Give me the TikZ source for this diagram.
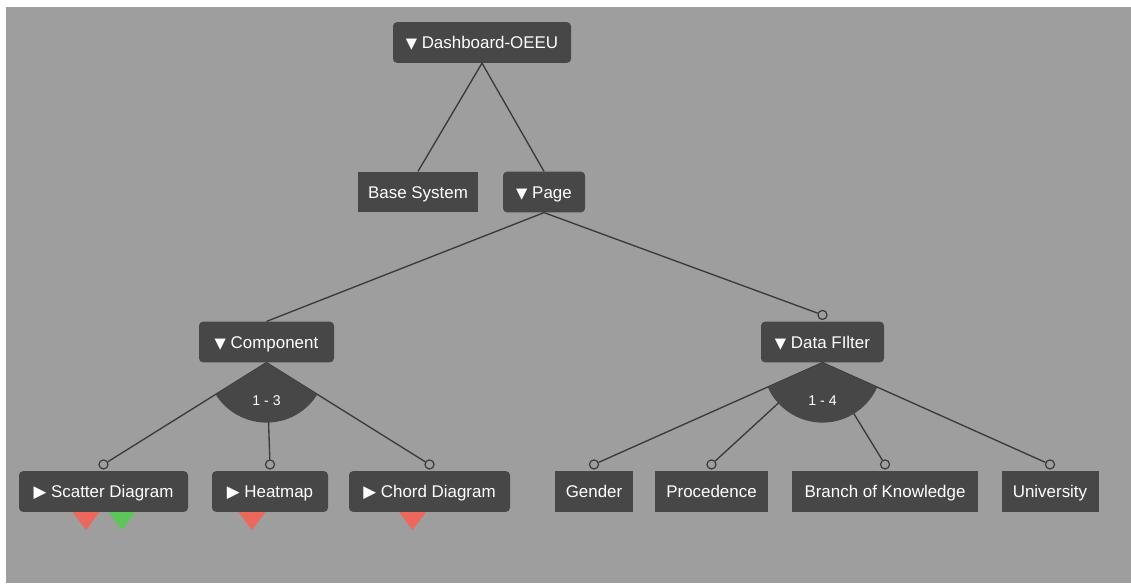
\documentclass[tikz,border=0pt]{standalone}
\usepackage{fontspec}
\setmainfont{Liberation Sans}
\newfontfamily\symfont{DejaVu Sans}
\usetikzlibrary{positioning}
\definecolor{bggray}{HTML}{9E9E9E}
\definecolor{boxgray}{HTML}{474747}
\definecolor{linegray}{HTML}{3A3A3A}
\definecolor{markred}{HTML}{EC685C}
\definecolor{markgreen}{HTML}{5DC65B}
\newcommand{\dn}{{\symfont\fontsize{11}{11}\selectfont ▼}}
\newcommand{\rt}{{\symfont\fontsize{12.5}{12}\selectfont ▶}}
\tikzset{
  feat/.style={fill=boxgray, text=white, font=\fontsize{12.7}{14}\selectfont,
    minimum height=30.5pt, inner sep=0pt, text height=11.6pt, text depth=2.5pt},
  featr/.style={feat, rounded corners=3pt},
  wd/.style={minimum width=#1*0.75pt},
  link/.style={draw=linegray, line width=1pt},
  opt/.style={circle, draw=linegray, fill=bggray, line width=0.9pt,
    inner sep=0pt, minimum size=6.8pt},
  grp/.style={fill=boxgray},
  card/.style={text=white, font=\fontsize{10.6}{12}\selectfont},
}

\begin{document}
\begin{tikzpicture}[x=0.75pt,y=0.75pt]
  \useasboundingbox (0,0) rectangle (1131,-583);
  \fill[bggray] (6,-7) rectangle (1131,-583);
  % markers under the components
  \foreach \x/\c in {86/markred, 122/markgreen, 252/markred, 412.5/markred}
    \fill[\c] (\x-15,-510) -- (\x+15,-510) -- (\x,-530) -- cycle;
  % features
  \node[featr, wd=178] (dash) at (482,-42.5) {\dn\ Dashboard-OEEU};
  \node[feat, wd=120] (base) at (418,-192) {Base System};
  \node[featr, wd=82] (page) at (544,-192) {\dn\ Page};
  \node[featr, wd=135] (comp) at (266.5,-342) {\dn\ Component};
  \node[featr, wd=123] (filt) at (822.5,-342) {\dn\ Data FIlter};
  \node[featr, wd=169] (scat) at (103.5,-491.5) {\rt\ Scatter Diagram};
  \node[featr, wd=116] (heat) at (270,-491.5) {\rt\ Heatmap};
  \node[featr, wd=161] (chord) at (429.5,-491.5) {\rt\ Chord Diagram};
  \node[feat, wd=78] (gend) at (594,-491.5) {Gender};
  \node[feat, wd=113] (proc) at (711.5,-491.5) {Procedence};
  \node[feat, wd=186] (bok) at (885,-491.5) {Branch of Knowledge};
  \node[feat, wd=97] (univ) at (1050,-491.5) {University};
  % optional circles
  \node[opt, above=1pt of filt] (ofilt) {};
  \foreach \n in {scat,heat,chord,gend,proc,bok,univ}
    \node[opt, above=1pt of \n] (o\n) {};
  % links
  \draw[link] (dash.south) -- (base.north);
  \draw[link] (dash.south) -- (page.north);
  \draw[link] (page.south) -- (comp.north);
  \draw[link] (page.south) -- (ofilt);
  \foreach \n in {scat,heat,chord}
    \draw[link] (comp.south) -- (o\n);
  \foreach \n in {gend,proc,bok,univ}
    \draw[link] (filt.south) -- (o\n);
  % groups
  \fill[grp] (comp.south) -- ++(-148:60) arc[start angle=-148, end angle=-32, radius=60] -- cycle;
  \fill[grp] (filt.south) -- ++(-155.5:60) arc[start angle=-155.5, end angle=-24.5, radius=60] -- cycle;
  \node[card] (c13) at (266.5,-401) {1 - 3};
  \node[card] (c14) at (822.5,-401) {1 - 4};
\end{tikzpicture}
\end{document}
